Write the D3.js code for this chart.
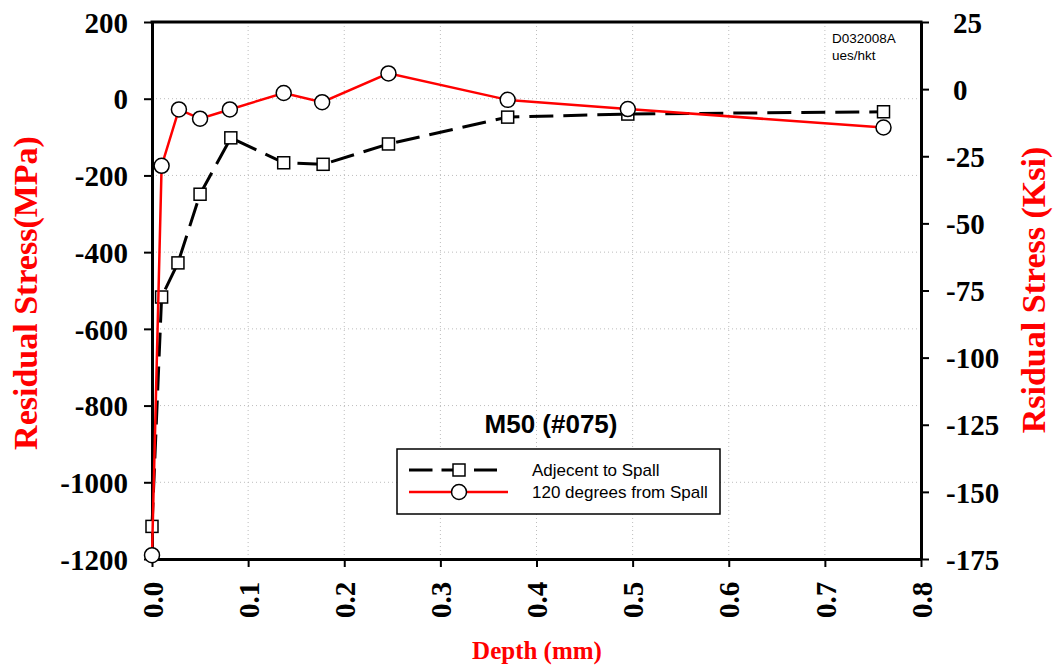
<!DOCTYPE html>
<html>
<head>
<meta charset="utf-8">
<script src="https://cdn.jsdelivr.net/npm/d3@7"></script>
<style>
  body { margin: 0; background: #fff; }
  .dot-grid line { stroke: #bdbdbd; stroke-width: 1; stroke-dasharray: 1,3; }
</style>
</head>
<body>
<script>
'use strict';

// depth (mm) and stress (MPa)
const adjDepth = [0.0, 0.010, 0.027, 0.050, 0.082, 0.137, 0.178, 0.246, 0.370, 0.495, 0.761];
const adjStress = [-1115, -517, -428, -249, -102, -167, -171, -118, -48, -40, -34];
const degDepth = [0.0, 0.010, 0.028, 0.050, 0.081, 0.137, 0.177, 0.246, 0.370, 0.495, 0.761];
const degStress = [-1190, -175, -28, -52, -28, 15, -9, 66, -3, -27, -75];

const xTicks = [0, 0.1, 0.2, 0.3, 0.4, 0.5, 0.6, 0.7, 0.8];
const mpaTicks = [200, 0, -200, -400, -600, -800, -1000, -1200];
const ksiTicks = [25, 0, -25, -50, -75, -100, -125, -150, -175];
const seriesNames = ['Adjecent to Spall', '120 degrees from Spall'];

(function() {

  let svg = "";
  const left = 152, right = 921, top = 22, bottom = 559;
  const serif = '"Liberation Serif", "Times New Roman", serif';
  const sans = '"Liberation Sans", Arial, sans-serif';

  window.onload = function() {
    svg = d3.select('body')
      .append('svg')
      .attr('width', 1054)
      .attr('height', 668);

    let xScale = d3.scaleLinear().domain([0, 0.8]).range([left, right]);
    let yScale = d3.scaleLinear().domain([-1200, 200]).range([bottom, top]);
    let kScale = d3.scaleLinear().domain([-175, 25]).range([bottom, top]);

    drawGrid(xScale, yScale);
    drawAxes(xScale, yScale, kScale);
    plotSeries(xScale, yScale);
    makeLabels();
    makeLegend();
  }

  // dotted grid lines inside the frame
  function drawGrid(x, y) {
    let g = svg.append('g').attr('class', 'dot-grid');
    g.selectAll('.vg')
      .data(xTicks.filter(d => d > 0 && d < 0.8))
      .enter()
      .append('line')
        .attr('x1', d => x(d)).attr('x2', d => x(d))
        .attr('y1', top).attr('y2', bottom);
    g.selectAll('.hg')
      .data(mpaTicks.filter(d => d < 200 && d > -1200))
      .enter()
      .append('line')
        .attr('x1', left).attr('x2', right)
        .attr('y1', d => y(d)).attr('y2', d => y(d));
  }

  function styleAxis(g) {
    g.select('.domain').attr('stroke', '#000').attr('stroke-width', 3);
    g.selectAll('.tick line').attr('stroke', '#000').attr('stroke-width', 2);
    g.selectAll('.tick text')
      .style('font-family', serif)
      .style('font-weight', 'bold')
      .style('font-size', '29px')
      .attr('fill', '#000');
  }

  function drawAxes(x, y, k) {
    // bottom: depth
    let xAxis = d3.axisBottom(x).tickValues(xTicks).tickSize(8).tickSizeOuter(0)
      .tickFormat(d3.format('.1f'));
    let gx = svg.append('g')
      .attr('transform', `translate(0, ${bottom})`)
      .call(xAxis);
    styleAxis(gx);
    gx.selectAll('.tick text')
      .attr('transform', 'rotate(-90)')
      .attr('x', -59)
      .attr('y', 0)
      .attr('dy', '0.35em')
      .attr('text-anchor', 'start');

    // left: MPa
    let yAxis = d3.axisLeft(y).tickValues(mpaTicks).tickSize(8).tickSizeOuter(0)
      .tickFormat(d => String(d));
    let gy = svg.append('g')
      .attr('transform', `translate(${left}, 0)`)
      .call(yAxis);
    styleAxis(gy);
    gy.selectAll('.tick text').attr('x', -24).attr('dy', '0.35em');

    // right: Ksi
    let kAxis = d3.axisRight(k).tickValues(ksiTicks).tickSize(8).tickSizeOuter(0)
      .tickFormat(d => String(d));
    let gk = svg.append('g')
      .attr('transform', `translate(${right}, 0)`)
      .call(kAxis);
    styleAxis(gk);
    gk.selectAll('.tick text')
      .attr('x', d => d < 0 ? 25 : 32)
      .attr('dy', '0.35em');

    // top frame line
    svg.append('line')
      .attr('x1', left - 1.5).attr('x2', right + 1.5)
      .attr('y1', top).attr('y2', top)
      .attr('stroke', '#000').attr('stroke-width', 3);
  }

  function plotSeries(x, y) {
    let adj = adjDepth.map((d, i) => [d, adjStress[i]]);
    let deg = degDepth.map((d, i) => [d, degStress[i]]);
    let line = d3.line().x(d => x(d[0])).y(d => y(d[1]));

    svg.append('path')
      .attr('d', line(adj))
      .attr('fill', 'none')
      .attr('stroke', '#000')
      .attr('stroke-width', 3)
      .attr('stroke-dasharray', '24,10');

    svg.selectAll('.sq')
      .data(adj)
      .enter()
      .append('rect')
        .attr('x', d => x(d[0]) - 6)
        .attr('y', d => y(d[1]) - 6)
        .attr('width', 12).attr('height', 12)
        .attr('fill', '#fff')
        .attr('stroke', '#000')
        .attr('stroke-width', 1.5);

    svg.append('path')
      .attr('d', line(deg))
      .attr('fill', 'none')
      .attr('stroke', '#ff0000')
      .attr('stroke-width', 2.5);

    svg.selectAll('.ci')
      .data(deg)
      .enter()
      .append('circle')
        .attr('cx', d => x(d[0]))
        .attr('cy', d => y(d[1]))
        .attr('r', 7.5)
        .attr('fill', '#fff')
        .attr('stroke', '#000')
        .attr('stroke-width', 1.5);
  }

  function makeLabels() {
    svg.append('text')
      .attr('transform', 'translate(37, 293)rotate(-90)')
      .attr('text-anchor', 'middle')
      .style('font', `bold 34px ${serif}`)
      .attr('fill', '#ff0000')
      .text('Residual Stress(MPa)');

    svg.append('text')
      .attr('transform', 'translate(1045, 290)rotate(-90)')
      .attr('text-anchor', 'middle')
      .style('font', `bold 34px ${serif}`)
      .attr('fill', '#ff0000')
      .text('Rsidual Stress (Ksi)');

    svg.append('text')
      .attr('x', 537).attr('y', 659)
      .attr('text-anchor', 'middle')
      .style('font', `bold 25px ${serif}`)
      .attr('fill', '#ff0000')
      .text('Depth (mm)');

    svg.append('text')
      .attr('x', 551).attr('y', 433)
      .attr('text-anchor', 'middle')
      .style('font', `bold 26px ${sans}`)
      .text('M50 (#075)');

    svg.append('text')
      .attr('x', 832).attr('y', 43)
      .style('font', `13.5px ${sans}`)
      .text('D032008A');
    svg.append('text')
      .attr('x', 832).attr('y', 60)
      .style('font', `13.5px ${sans}`)
      .text('ues/hkt');
  }

  function makeLegend() {
    let lg = svg.append('g');
    lg.append('rect')
      .attr('x', 397).attr('y', 449)
      .attr('width', 323).attr('height', 65)
      .attr('fill', '#fff')
      .attr('stroke', '#000')
      .attr('stroke-width', 1.5);

    let rows = [470, 492];
    lg.append('line')
      .attr('x1', 409).attr('x2', 497)
      .attr('y1', rows[0]).attr('y2', rows[0])
      .attr('stroke', '#000').attr('stroke-width', 3)
      .attr('stroke-dasharray', '23.5,9');
    lg.append('rect')
      .attr('x', 453).attr('y', rows[0] - 6)
      .attr('width', 12).attr('height', 12)
      .attr('fill', '#fff').attr('stroke', '#000').attr('stroke-width', 1.5);

    lg.append('line')
      .attr('x1', 409).attr('x2', 508)
      .attr('y1', rows[1]).attr('y2', rows[1])
      .attr('stroke', '#ff0000').attr('stroke-width', 2.5);
    lg.append('circle')
      .attr('cx', 459).attr('cy', rows[1]).attr('r', 7.5)
      .attr('fill', '#fff').attr('stroke', '#000').attr('stroke-width', 1.5);

    lg.selectAll('.lt')
      .data(seriesNames)
      .enter()
      .append('text')
        .attr('x', 532)
        .attr('y', (d, i) => rows[i])
        .attr('dy', '0.35em')
        .style('font', `17px ${sans}`)
        .text(d => d);
  }

})();
</script>
</body>
</html>
